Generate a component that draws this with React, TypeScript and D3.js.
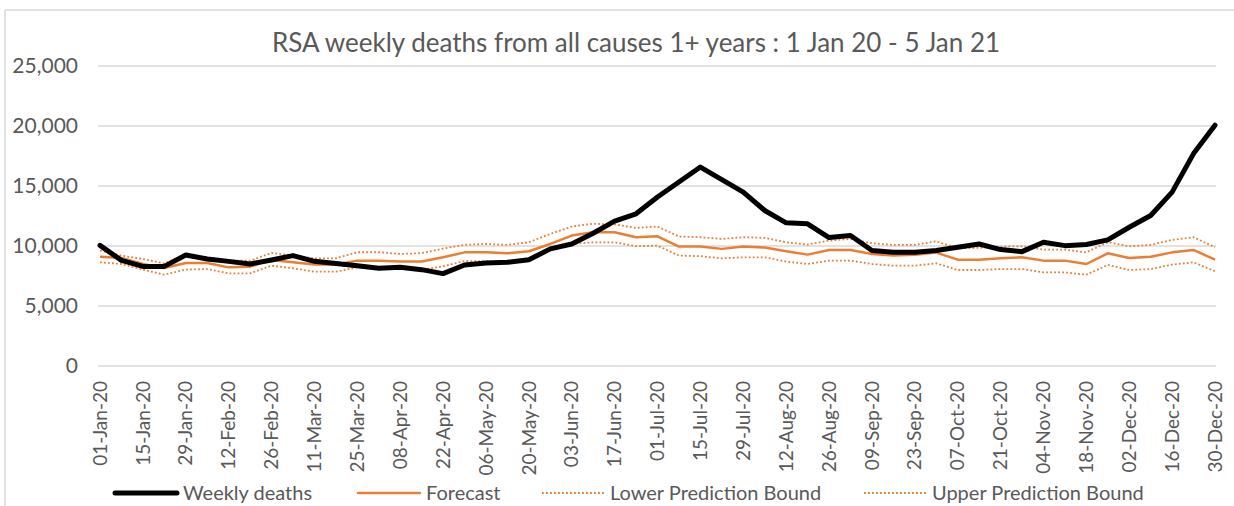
import React from "react";
import * as d3 from "d3";

// weekly categories (every week of 2020)
const weeks = [
  "01-Jan-20", "08-Jan-20", "15-Jan-20", "22-Jan-20", "29-Jan-20", "05-Feb-20", "12-Feb-20", "19-Feb-20",
  "26-Feb-20", "04-Mar-20", "11-Mar-20", "18-Mar-20", "25-Mar-20", "01-Apr-20", "08-Apr-20", "15-Apr-20",
  "22-Apr-20", "29-Apr-20", "06-May-20", "13-May-20", "20-May-20", "27-May-20", "03-Jun-20", "10-Jun-20",
  "17-Jun-20", "24-Jun-20", "01-Jul-20", "08-Jul-20", "15-Jul-20", "22-Jul-20", "29-Jul-20", "05-Aug-20",
  "12-Aug-20", "19-Aug-20", "26-Aug-20", "02-Sep-20", "09-Sep-20", "16-Sep-20", "23-Sep-20", "30-Sep-20",
  "07-Oct-20", "14-Oct-20", "21-Oct-20", "28-Oct-20", "04-Nov-20", "11-Nov-20", "18-Nov-20", "25-Nov-20",
  "02-Dec-20", "09-Dec-20", "16-Dec-20", "23-Dec-20", "30-Dec-20",
];

// only every other week gets a label
const tickLabels = weeks.filter((_, i) => i % 2 === 0);

const weeklyDeaths = [
  10050, 8800, 8300, 8300, 9250, 8920, 8720, 8500, 8840, 9200, 8720, 8550, 8350, 8140, 8220, 8030,
  7700, 8420, 8590, 8640, 8860, 9760, 10170, 11060, 12070, 12680, 14080, 15330, 16580, 15530, 14490, 12960,
  11930, 11850, 10700, 10870, 9620, 9480, 9480, 9620, 9890, 10170, 9700, 9530, 10310, 10030, 10120, 10510,
  11560, 12540, 14490, 17700, 20070,
];

const forecast = [
  9110, 9000, 8500, 8170, 8590, 8590, 8220, 8280, 8840, 8640, 8450, 8450, 8780, 8780, 8700, 8700,
  9060, 9470, 9470, 9390, 9560, 10170, 10870, 11150, 11150, 10730, 10810, 9950, 9950, 9760, 9950, 9870,
  9560, 9280, 9670, 9670, 9340, 9200, 9280, 9450, 8860, 8860, 8970, 9060, 8780, 8780, 8500, 9390,
  9000, 9110, 9470, 9670, 8860,
];

const lowerBound = [
  8640, 8500, 8030, 7610, 8030, 8080, 7720, 7720, 8360, 8140, 7860, 7860, 8220, 8220, 8080, 8030,
  8300, 8750, 8730, 8640, 8920, 9620, 10170, 10310, 10310, 9980, 10030, 9200, 9150, 8970, 9060, 9060,
  8700, 8500, 8780, 8780, 8500, 8360, 8360, 8560, 8000, 8000, 8080, 8080, 7800, 7800, 7610, 8420,
  8000, 8080, 8450, 8640, 7890,
];

const upperBound = [
  9620, 9200, 8920, 8550, 9250, 9060, 8780, 8780, 9420, 9200, 8970, 8970, 9480, 9480, 9340, 9400,
  9780, 10100, 10170, 10090, 10310, 11010, 11620, 11850, 11800, 11510, 11620, 10790, 10730, 10590, 10730, 10680,
  10310, 10120, 10450, 10590, 10230, 10090, 10090, 10390, 9810, 9840, 9950, 9980, 9700, 9700, 9470, 10310,
  9980, 10090, 10510, 10730, 9890,
];

const yTicks = [0, 5000, 10000, 15000, 20000, 25000];

const ORANGE = "#ED7D31";
const TEXT = "#595959";
const GRID = "#d9d9d9";
const FONT = "Lato, 'Open Sans', sans-serif";

const App = () => {
  const width = 1234;
  const height = 506;
  const plot = { left: 98, right: 1216, top: 66, bottom: 366 };

  const xScale = d3.scalePoint<string>()
    .domain(weeks)
    .range([100, 1215]);

  const yScale = d3.scaleLinear()
    .domain([0, 25000])
    .range([plot.bottom, plot.top]);

  const line = d3.line<number>()
    .x((_, i) => xScale(weeks[i]) as number)
    .y(d => yScale(d));

  const fmt = d3.format(",");

  const legend = [
    { label: "Weekly deaths", x: 115, stroke: "#000", w: 5, dash: undefined },
    { label: "Forecast", x: 358, stroke: ORANGE, w: 2.5, dash: undefined },
    { label: "Lower Prediction Bound", x: 542, stroke: ORANGE, w: 1.8, dash: "1.8,2.2" },
    { label: "Upper Prediction Bound", x: 864, stroke: ORANGE, w: 1.8, dash: "1.8,2.2" },
  ];

  return (
    <svg width={width} height={height} viewBox={`0 0 ${width} ${height}`}
      style={{ position: "absolute", left: 0, top: 0, background: "#fff" }}>
      {/* chart frame */}
      <line x1={5} x2={width} y1={10} y2={10} stroke={GRID} strokeWidth={1.5} />
      <line x1={5} x2={5} y1={10} y2={height} stroke={GRID} strokeWidth={1.5} />

      {/* Title */}
      <text x={636} y={43} dy="0.35em" textAnchor="middle"
        style={{ fontFamily: FONT, fontSize: "26px", fill: TEXT }}>
        RSA weekly deaths from all causes 1+ years : 1 Jan 20 - 5 Jan 21
      </text>

      {/* Y gridlines + labels */}
      {yTicks.map(t => (
        <g key={t} transform={`translate(0, ${yScale(t)})`}>
          <line x1={plot.left} x2={plot.right} stroke={GRID} strokeWidth={1.5} />
          <text x={78} dy="0.35em" textAnchor="end"
            style={{ fontFamily: FONT, fontSize: "21px", fill: TEXT }}>
            {fmt(t)}
          </text>
        </g>
      ))}

      {/* X labels */}
      {tickLabels.map(d => (
        <text key={d}
          transform={`translate(${xScale(d)}, 381) rotate(-90)`}
          dy="0.35em" textAnchor="end"
          style={{ fontFamily: FONT, fontSize: "19px", fill: TEXT }}>
          {d}
        </text>
      ))}

      {/* Series */}
      <path d={line(lowerBound) || ""} fill="none" stroke={ORANGE} strokeWidth={1.8} strokeDasharray="1.8,2.2" />
      <path d={line(upperBound) || ""} fill="none" stroke={ORANGE} strokeWidth={1.8} strokeDasharray="1.8,2.2" />
      <path d={line(forecast) || ""} fill="none" stroke={ORANGE} strokeWidth={2.5} strokeLinejoin="round" />
      <path d={line(weeklyDeaths) || ""} fill="none" stroke="#000" strokeWidth={5} strokeLinejoin="round" strokeLinecap="round" />

      {/* Legend */}
      {legend.map(l => (
        <g key={l.label} transform={`translate(${l.x}, 493)`}>
          <line x1={0} x2={62} stroke={l.stroke} strokeWidth={l.w} strokeDasharray={l.dash}
            strokeLinecap={l.dash ? "butt" : "round"} />
          <text x={68} dy="0.35em" style={{ fontFamily: FONT, fontSize: "20px", fill: TEXT }}>
            {l.label}
          </text>
        </g>
      ))}
    </svg>
  );
};

export default App;
